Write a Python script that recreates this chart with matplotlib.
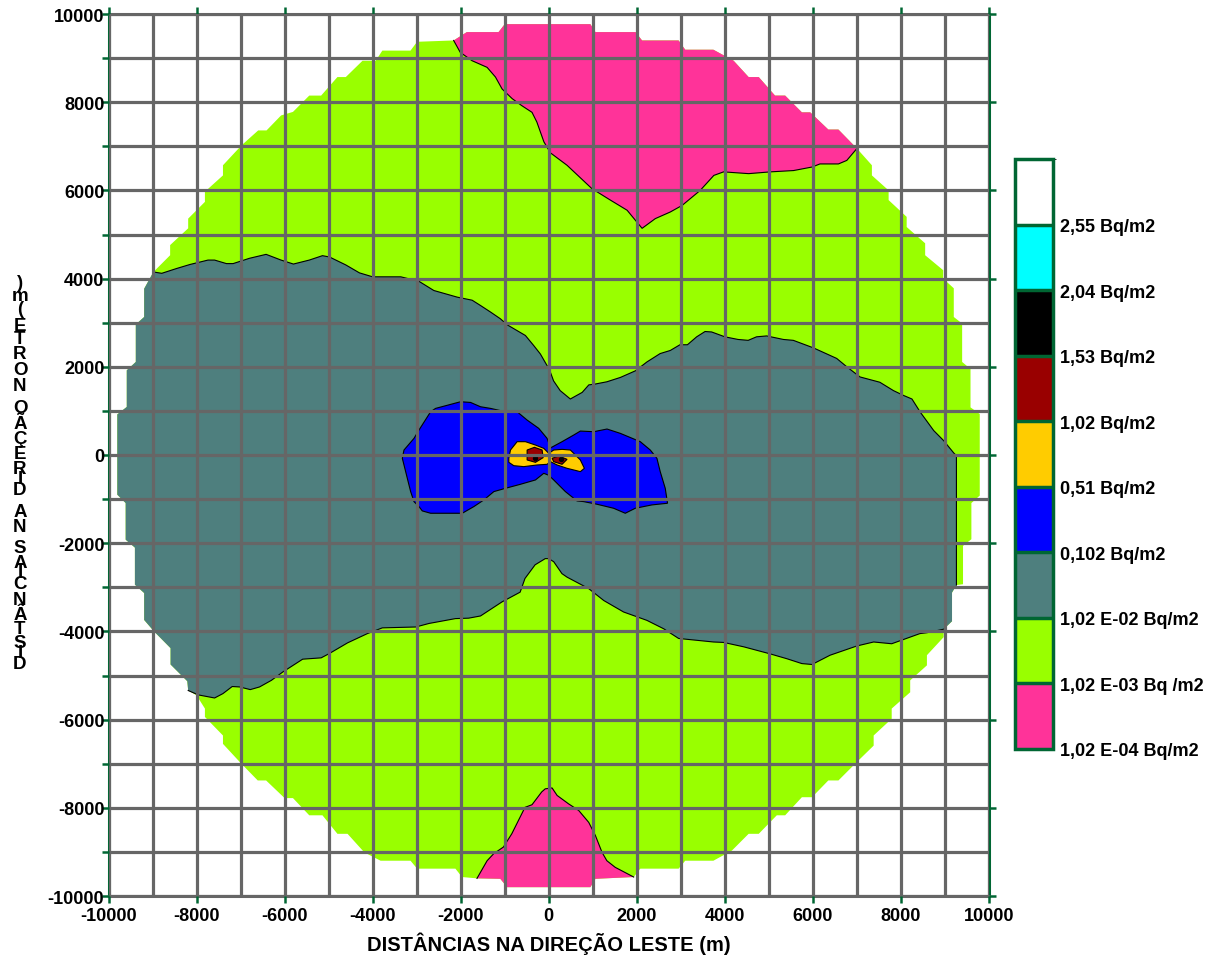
import matplotlib
matplotlib.use("Agg")
import matplotlib.pyplot as plt
from matplotlib.colors import ListedColormap, BoundaryNorm
from matplotlib.cm import ScalarMappable
from matplotlib.font_manager import FontProperties

plt.rcParams['font.family'] = ['Liberation Sans', 'DejaVu Sans']
plt.rcParams['font.weight'] = 'bold'
plt.rcParams['axes.unicode_minus'] = False

# deposition levels (Bq/m2), colours and legend texts
levels = [1.02e-4, 1.02e-3, 1.02e-2, 0.102, 0.51, 1.02, 1.53, 2.04, 2.55, 3.06]
level_colors = ['#FF3399', '#99FF00', '#4E7F7E', '#0000FF', '#FFCC00',
                '#990000', '#000000', '#00FFFF', '#FFFFFF']
level_labels = ['1,02 E-04 Bq/m2', '1,02 E-03 Bq /m2', '1,02 E-02 Bq/m2',
                '0,102 Bq/m2', '0,51 Bq/m2', '1,02 Bq/m2', '1,53 Bq/m2',
                '2,04 Bq/m2', '2,55 Bq/m2']

x_ticks = list(range(-10000, 10001, 2000))
y_ticks = list(range(-10000, 10001, 2000))

# outer edge of the computed grid (stair steps), split by zone
green_nw = [(-8980, 4150), (-8600, 4530), (-8600, 4760), (-8190, 5140), (-8190, 5360),
            (-7810, 5740), (-7810, 5970), (-7400, 6340), (-7400, 6570), (-6980, 7020),
            (-6600, 7360), (-6410, 7360), (-6080, 7700), (-5810, 7780), (-5440, 8150),
            (-5170, 8150), (-4800, 8570), (-4610, 8570), (-4230, 8940), (-3930, 8940),
            (-3780, 9170), (-3140, 9170), (-2990, 9370)]
pink_n_outer = [(-2160, 9400), (-1860, 9590), (-1140, 9590), (-1000, 9770), (945, 9770),
                (1060, 9590), (1970, 9590), (2120, 9400), (2950, 9400), (3100, 9190),
                (3740, 9190), (4200, 8940), (4540, 8570), (4770, 8570), (5140, 8150),
                (5370, 8150), (5750, 7770), (5940, 7770), (6350, 7380), (6580, 7380),
                (7000, 6950)]
green_ne = [(7340, 6570), (7340, 6340), (7720, 6000), (7720, 5780), (8130, 5400),
            (8130, 5170), (8550, 4800), (8550, 4530), (8960, 4190), (8960, 4000),
            (9200, 3780), (9200, 3130), (9390, 2980), (9390, 2110), (9580, 1950),
            (9580, 1080), (9790, 930), (9790, -920), (9600, -1090), (9600, -1910),
            (9410, -2060), (9410, -2930)]
teal_east = [(9260, -15), (9260, -2950), (9160, -3120), (9160, -3770), (8970, -3950)]
green_se = [(8970, -4130), (8590, -4540), (8590, -4770), (8210, -5110), (8210, -5380),
            (7790, -5750), (7790, -5980), (7380, -6360), (7380, -6590), (7000, -6960),
            (6580, -7380), (6350, -7380), (5980, -7760), (5750, -7760), (5370, -8170),
            (5180, -8170), (4770, -8590), (4540, -8590), (4160, -8970), (3740, -9200),
            (3100, -9200), (2950, -9380), (2080, -9380)]
pink_s_outer = [(1930, -9570), (1060, -9610), (945, -9800), (-945, -9800),
                (-1100, -9610), (-1630, -9600)]
green_sw = [(-1970, -9570), (-2120, -9380), (-2990, -9380), (-3140, -9200), (-3820, -9200),
            (-4190, -9010), (-4570, -8590), (-4800, -8590), (-5140, -8170), (-5440, -8170),
            (-5810, -7780), (-6000, -7780), (-6420, -7380), (-6610, -7380), (-7020, -6960),
            (-7400, -6550), (-7400, -6360), (-7810, -5940), (-7810, -5750), (-8000, -5450)]
teal_west = [(-8190, -5340), (-8210, -5130), (-8590, -4750), (-8590, -4380), (-8966, -4000),
             (-9190, -3740), (-9190, -3130), (-9400, -2940), (-9400, -2100), (-9610, -1920),
             (-9610, -1090), (-9800, -900), (-9800, 920), (-9585, 1090), (-9585, 1920),
             (-9380, 2110), (-9380, 2960), (-9190, 3130), (-9190, 3770), (-8980, 4150)]

# isolines between zones
pink_n_line = [(6770, 6680), (6580, 6600), (6160, 6600), (5980, 6530), (5560, 6450),
               (5030, 6420), (4540, 6380), (3970, 6420), (3750, 6340), (3440, 6000),
               (3030, 5660), (2760, 5510), (2420, 5360), (2120, 5140), (1970, 5320),
               (1780, 5550), (1400, 5780), (980, 6040), (415, 6570), (40, 6850),
               (-110, 7100), (-270, 7550), (-380, 7770), (-610, 7920), (-830, 8080),
               (-1060, 8300), (-1210, 8570), (-1400, 8790), (-1740, 8940), (-2010, 9130)]
pink_s_line = [(-1400, -9200), (-1250, -9040), (-1030, -8890), (-840, -8590), (-540, -7990),
               (-380, -7930), (-160, -7640), (-80, -7570), (76, -7550), (190, -7720),
               (450, -7910), (680, -8060), (908, -8330), (1060, -8630), (1210, -9010),
               (1320, -9200), (1510, -9350)]
teal_top = [(-8980, 4150), (-8790, 4120), (-8450, 4230), (-8150, 4320), (-7740, 4420),
            (-7590, 4420), (-7320, 4340), (-7170, 4340), (-6800, 4460), (-6420, 4550),
            (-6080, 4420), (-5800, 4330), (-5440, 4420), (-5140, 4520), (-4980, 4490),
            (-4610, 4310), (-4300, 4130), (-4000, 4040), (-3360, 4040), (-2950, 3940),
            (-2610, 3730), (-2080, 3580), (-1740, 3510), (-1550, 3390), (-1320, 3240),
            (-1100, 3090), (-940, 2950), (-530, 2710), (-340, 2480), (-190, 2290),
            (-40, 2030), (40, 1870), (110, 1680), (260, 1460), (490, 1270), (760, 1420),
            (910, 1590), (1060, 1610), (1320, 1660), (1630, 1760), (1970, 1910),
            (2230, 2110), (2530, 2300), (2760, 2370), (2980, 2500), (3150, 2500),
            (3360, 2680), (3550, 2800), (3700, 2790), (4000, 2680), (4300, 2620),
            (4530, 2600), (4720, 2680), (4950, 2700), (5330, 2620), (5555, 2600),
            (6010, 2430), (6540, 2190), (6770, 2000), (7070, 1770), (7520, 1650),
            (7830, 1460), (8060, 1350), (8250, 1270), (8440, 970), (8745, 553),
            (8970, 326), (9200, 45)]
teal_bottom = [(8590, -4030), (8430, -4050), (7790, -4280), (7380, -4240), (7000, -4330),
               (6390, -4540), (5980, -4750), (5750, -4730), (5410, -4620), (5030, -4510),
               (4430, -4350), (3970, -4250), (3740, -4240), (2950, -4160), (2610, -3940),
               (2230, -3750), (1700, -3560), (1250, -3300), (908, -3030), (416, -2770),
               (300, -2690), (113, -2420), (0, -2350), (-80, -2350), (-310, -2490),
               (-540, -2800), (-650, -3110), (-1060, -3330), (-1550, -3650), (-1820, -3700),
               (-2120, -3710), (-2720, -3820), (-3020, -3900), (-3780, -3920), (-4120, -4050),
               (-4570, -4260), (-4980, -4500), (-5170, -4600), (-5590, -4630), (-6040, -4920),
               (-6300, -5110), (-6570, -5260), (-6780, -5320), (-7020, -5260), (-7190, -5250),
               (-7400, -5410), (-7590, -5510), (-7960, -5440)]
blue_zone = [(-3326, -75), (-3288, 113), (-3061, 377), (-2948, 566), (-2683, 981),
             (-2570, 1057), (-2003, 1208), (-1776, 1192), (-1550, 1094), (-1323, 1057),
             (-983, 981), (-718, 981), (-491, 792), (-227, 604), (-38, 377), (38, 160),
             (302, 302), (567, 453), (718, 543), (1020, 528), (1323, 589), (1625, 491),
             (2079, 302), (2306, 113), (2457, -75), (2532, -377), (2646, -755),
             (2698, -1094), (2343, -1132), (1965, -1208), (1738, -1321), (1474, -1208),
             (1096, -1117), (794, -1057), (643, -1042), (378, -830), (113, -566),
             (0, -460), (-113, -415), (-302, -566), (-642, -664), (-983, -755),
             (-1247, -830), (-1474, -1019), (-1701, -1170), (-1965, -1321), (-2268, -1321),
             (-2683, -1321), (-2872, -1268), (-2948, -1170), (-3061, -1057), (-3137, -830)]
yellow_zone = [(-907, -75), (-869, 113), (-718, 302), (-529, 302), (-302, 226), (-113, 151),
               (0, 38), (113, 113), (302, 128), (491, 113), (567, 38), (718, -113),
               (809, -302), (718, -377), (416, -302), (189, -226), (38, -151), (-38, -211),
               (-265, -226), (-567, -264), (-794, -242), (-907, -166)]
red_west = [(-491, 113), (-325, 174), (-151, 113), (-128, -60), (-302, -166), (-491, -113)]
red_east = [(76, -75), (227, -23), (416, -98), (302, -211), (113, -151)]
source_x = [-302, 287]
source_y = [-75, -90]


def xy(points):
    return [p[0] for p in points], [p[1] for p in points]


fig = plt.figure(figsize=(12.14, 9.62), dpi=100)
ax = fig.add_axes([108.5 / 1214, 1 - 897 / 962, 880.5 / 1214, 882 / 962])

disc = green_nw + pink_n_outer + green_ne + teal_east[1:] + green_se + pink_s_outer + green_sw + teal_west
ax.fill(*xy(disc), color=level_colors[1], lw=0, zorder=1)
ax.fill(*xy(pink_n_outer + pink_n_line), color=level_colors[0], lw=0, zorder=1)
ax.fill(*xy(pink_s_outer + pink_s_line), color=level_colors[0], lw=0, zorder=1)
ax.fill(*xy(teal_top + teal_east + teal_bottom + teal_west), color=level_colors[2], lw=0, zorder=1)

line_kw = dict(color='black', lw=0.8, zorder=1.2)
ax.plot(*xy(pink_n_outer[-1:] + pink_n_line + pink_n_outer[:1]), **line_kw)
ax.plot(*xy(pink_s_outer[-1:] + pink_s_line + pink_s_outer[:1]), **line_kw)
ax.plot(*xy(teal_top + teal_east[:2]), **line_kw)
ax.plot(*xy(teal_east[-1:] + teal_bottom + teal_west[:1]), **line_kw)

for zone, c in [(blue_zone, level_colors[3]), (yellow_zone, level_colors[4]),
                (red_west, level_colors[5]), (red_east, level_colors[5])]:
    ax.fill(*xy(zone), facecolor=c, edgecolor='black', lw=0.8, zorder=1.3)
ax.scatter(source_x, source_y, s=8, color='black', zorder=1.4)

ax.set_xlim(-10000, 10000)
ax.set_ylim(-10000, 10000)
ax.set_xticks(x_ticks)
ax.set_yticks(y_ticks)
ax.set_xticks(range(-10000, 10001, 1000), minor=True)
ax.set_yticks(range(-10000, 10001, 1000), minor=True)
ax.set_axisbelow(False)
ax.grid(which='both', color='#666666', lw=2.3)

dark_green = '#006633'
ax.spines['left'].set_color(dark_green)
ax.spines['right'].set_color(dark_green)
ax.spines['top'].set_color('#666666')
ax.spines['bottom'].set_color('#666666')
for s in ax.spines.values():
    s.set_linewidth(2.2)
ax.tick_params(which='major', direction='out', length=5, width=1.8, color=dark_green,
               top=True, right=True, labelsize=13)
ax.tick_params(axis='y', which='major', pad=-2)
ax.tick_params(axis='x', which='major', pad=3)
ax.tick_params(which='minor', length=0)
ax.tick_params(axis='y', which='minor', left=True, length=5, width=1.8, color=dark_green)

ax.set_xlabel('DISTÂNCIAS NA DIREÇÃO LESTE (m)', fontsize=14.5, fontweight='bold', labelpad=5)

# y title: upright letters stacked along the axis, last letter on top
ytitle = 'DISTÂNCIAS NA DIREÇÃO NORTE (m)'
prop = FontProperties(family='Liberation Sans', weight='bold', size=13.5)
renderer = fig.canvas.get_renderer()
widths = [renderer.get_text_width_height_descent(ch if ch != ' ' else 'i', prop, ismath=False)[0]
          for ch in ytitle]
span = 392.0 / sum(widths)
pos = 672.0
for ch, w in zip(ytitle, widths):
    yc = pos - span * w / 2
    fig.text(20 / 1214, 1 - yc / 962, ch, fontproperties=prop, ha='center', va='center')
    pos -= span * w

# legend bar
cax = fig.add_axes([1015 / 1214, 1 - 750 / 962, 38 / 1214, 590 / 962])
sm = ScalarMappable(norm=BoundaryNorm(levels, len(level_colors)), cmap=ListedColormap(level_colors))
cb = fig.colorbar(sm, cax=cax, spacing='uniform', drawedges=True, ticks=levels[:-1])
cb.set_ticklabels(level_labels)
cb.outline.set_edgecolor(dark_green)
cb.outline.set_linewidth(2.5)
cb.dividers.set_color(dark_green)
cb.dividers.set_linewidth(2.5)
cax.tick_params(length=0, labelsize=13, pad=5)
for t in cax.get_yticklabels():
    t.set_fontweight('bold')

fig.savefig('out.png', dpi=100)
